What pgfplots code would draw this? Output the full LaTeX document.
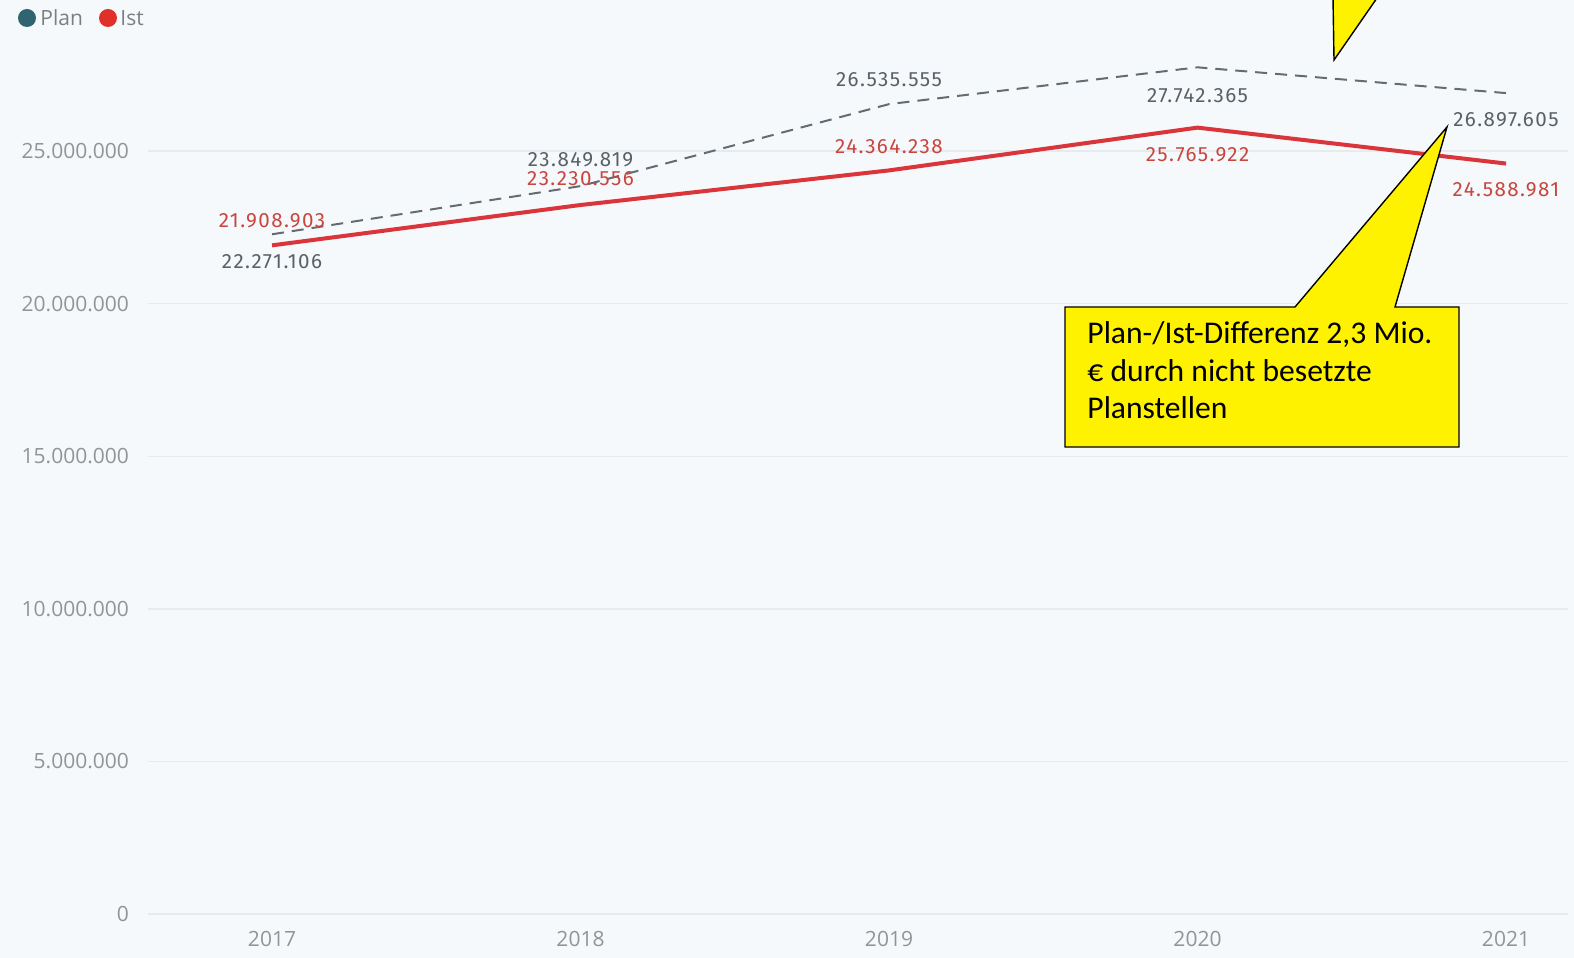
\documentclass[border=0pt]{standalone}
\usepackage{pgfplots}
\pgfplotsset{compat=1.18}
\usepackage{fontspec}
\setmainfont{Open Sans}
\newfontfamily\labfont[LetterSpace=7]{Fira Sans}
\newfontfamily\carlito{Carlito}
\definecolor{bg}{HTML}{F6F9FB}
\definecolor{gridc}{HTML}{E7EBEE}
\definecolor{plancol}{HTML}{646C72}
\definecolor{istcol}{HTML}{D9353B}
\definecolor{planlab}{HTML}{5A6166}
\definecolor{istlab}{HTML}{C9463F}
\definecolor{ticklab}{HTML}{929496}
\definecolor{legplan}{HTML}{2F6470}
\definecolor{legist}{HTML}{E0302A}
\begin{document}
\begin{tikzpicture}
\path[use as bounding box, fill=bg] (0,0) rectangle (787pt,479pt);
\begin{axis}[
  at={(74pt,22pt)}, anchor=south west,
  scale only axis, width=710pt, height=457pt,
  xmin=2016.598, xmax=2021.201, ymin=0, ymax=29948000,
  axis line style={draw=none}, major tick length=0pt,
  ymajorgrids, grid style={color=gridc, line width=0.7pt},
  ytick={0,5000000,10000000,15000000,20000000,25000000},
  xtick={2017,2018,2019,2020,2021},
  scaled y ticks=false,
  yticklabel style={xshift=-6pt, /pgf/number format/.cd, fixed, 1000 sep={.}, assume math mode=true},
  xticklabel style={yshift=-5pt, /pgf/number format/.cd, 1000 sep={}, assume math mode=true},
  ticklabel style={font=\fontsize{10.5}{12}\selectfont, text=ticklab},
  clip=false,
]
\addplot[plancol, line width=1pt, dash pattern=on 6pt off 4pt] coordinates {
  (2017,22271106) (2018,23849819) (2019,26535555) (2020,27742365) (2021,26897605)};
\addplot[istcol, line width=2pt] coordinates {
  (2017,21908903) (2018,23230556) (2019,24364238) (2020,25765922) (2021,24588981)};
\begin{scope}[every node/.style={font=\labfont\fontsize{10.3}{11}\selectfont, inner sep=0pt}]
\node[text=planlab, yshift=-13.5pt] at (axis cs:2017,22271106) {22.271.106};
\node[text=planlab, yshift=13pt] at (axis cs:2018,23849819) {23.849.819};
\node[text=planlab, yshift=12.5pt] at (axis cs:2019,26535555) {26.535.555};
\node[text=planlab, yshift=-14pt] at (axis cs:2020,27742365) {27.742.365};
\node[text=planlab, yshift=-13.5pt] at (axis cs:2021,26897605) {26.897.605};
\node[text=istlab, yshift=12.5pt] at (axis cs:2017,21908903) {21.908.903};
\node[text=istlab, yshift=13pt] at (axis cs:2018,23230556) {23.230.556};
\node[text=istlab, yshift=12pt] at (axis cs:2019,24364238) {24.364.238};
\node[text=istlab, yshift=-13.5pt] at (axis cs:2020,25765922) {25.765.922};
\node[text=istlab, yshift=-13pt] at (axis cs:2021,24588981) {24.588.981};
\end{scope}
\end{axis}
\begin{scope}[x=0.5pt, y=-0.5pt, shift={(0,479pt)}]
  % legend
  \fill[legplan] (27,18) circle (4.5pt);
  \node[anchor=west, inner sep=0pt, text=ticklab!85!black, font=\fontsize{10.5}{12}\selectfont] at (40,18) {Plan};
  \fill[legist] (108,18) circle (4.5pt);
  \node[anchor=west, inner sep=0pt, text=ticklab!85!black, font=\fontsize{10.5}{12}\selectfont] at (120,18) {Ist};
  % callouts
  \draw[fill=yellow, line width=0.7pt, line join=miter] (1333,-2) -- (1334,60) -- (1377,-2);
  \draw[fill=yellow, line width=0.7pt, line join=miter]
    (1065,307) -- (1295,307) -- (1447,127) -- (1395,307) -- (1459,307) -- (1459,447) -- (1065,447) -- cycle;
  \node[anchor=north west, align=left, inner sep=0pt, font=\carlito\fontsize{15.8}{18.9}\selectfont] at (1087,321)
    {Plan-/Ist-Differenz 2,3 Mio.\\€ durch nicht besetzte\\Planstellen};
\end{scope}
\end{tikzpicture}
\end{document}
